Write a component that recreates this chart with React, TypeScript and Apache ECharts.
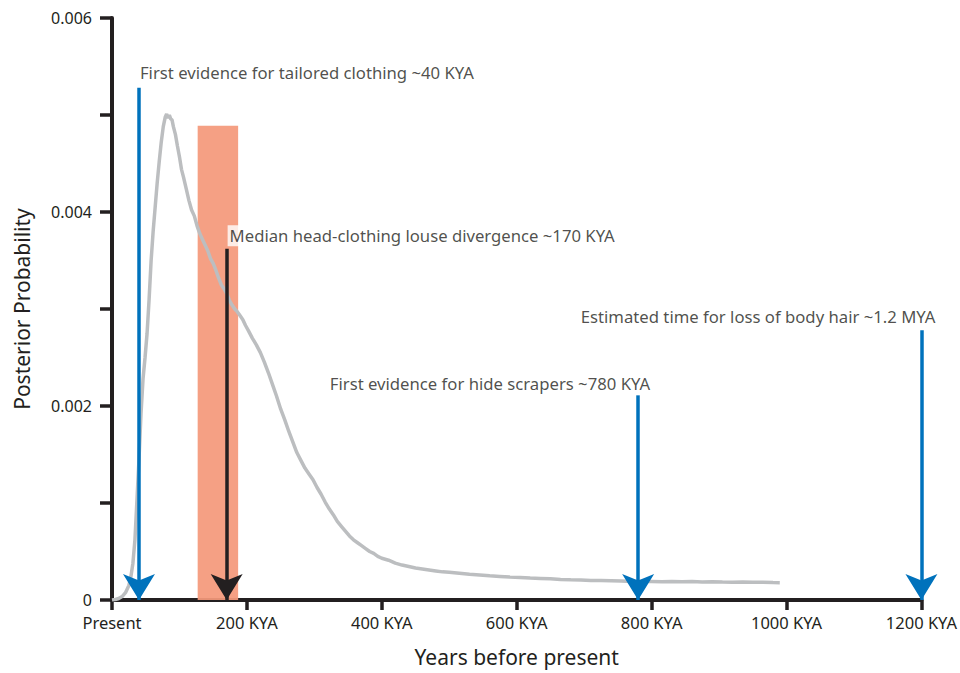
import React, { useEffect, useRef } from "react";
import * as echarts from "echarts";

// Posterior density of head-clothing louse divergence time (KYA)
const kya = [
  0, 5, 10, 15, 20, 25, 28, 31, 34, 37, 40, 43, 46, 49, 52, 55, 58, 61, 64, 67,
  70, 73, 76, 79, 81, 83, 85, 87, 89, 91, 94, 97, 100, 103, 106, 110, 114, 118, 122, 126,
  130, 134, 138, 142, 146, 150, 154, 158, 162, 166, 170, 174, 178, 182, 186, 190, 194, 198, 202, 208,
  214, 220, 226, 232, 238, 244, 250, 256, 262, 268, 274, 280, 286, 292, 298, 304, 310, 316, 322, 328,
  334, 340, 346, 352, 358, 364, 370, 376, 382, 388, 394, 400, 410, 420, 430, 440, 450, 460, 470, 480,
  490, 500, 515, 530, 545, 560, 575, 590, 605, 620, 635, 650, 665, 680, 695, 710, 725, 740, 755, 770,
  785, 800, 815, 830, 845, 860, 875, 890, 905, 920, 935, 950, 965, 980, 990,
];
const posterior = [
  0.0, 0.000005, 0.000015, 0.000035, 0.000075, 0.00015, 0.00024, 0.00038, 0.00062, 0.00103,
  0.00145, 0.00192, 0.00228, 0.0025, 0.00275, 0.0031, 0.0035, 0.0038, 0.00405, 0.0043,
  0.00452, 0.00472, 0.00488, 0.00498, 0.00501, 0.00497, 0.005, 0.00496, 0.00495, 0.00488,
  0.0048, 0.00468, 0.00457, 0.00444, 0.00436, 0.00424, 0.00412, 0.00402, 0.00396, 0.00386,
  0.00378, 0.00372, 0.00366, 0.0036, 0.00352, 0.00347, 0.0034, 0.00332, 0.00325, 0.00321,
  0.00316, 0.00309, 0.00304, 0.003, 0.00297, 0.00293, 0.00289, 0.00283, 0.00278, 0.0027,
  0.00263, 0.00255, 0.00245, 0.00234, 0.00222, 0.0021, 0.00197, 0.00186, 0.00174, 0.00163,
  0.00152, 0.00144, 0.00136, 0.0013, 0.00124, 0.00116, 0.00109, 0.00101, 0.00094, 0.00088,
  0.00081, 0.00076, 0.00071, 0.00066, 0.00062, 0.00059, 0.00056, 0.00053, 0.0005, 0.00048,
  0.00045, 0.00043, 0.00041, 0.00038, 0.00036, 0.000345, 0.00033, 0.00032, 0.00031, 0.0003,
  0.00029, 0.000285, 0.000275, 0.000265, 0.000258, 0.00025, 0.000243, 0.000236, 0.000232, 0.000226,
  0.000222, 0.000218, 0.000212, 0.000208, 0.000205, 0.000202, 0.0002, 0.000198, 0.000195, 0.000192,
  0.00019, 0.00019, 0.000189, 0.00019, 0.000188, 0.00019, 0.000186, 0.000188, 0.000185, 0.000184,
  0.000185, 0.000182, 0.000183, 0.00018, 0.000179,
];

// 95% interval of the divergence time (KYA) and its drawn height
const intervalKya = [127, 187];
const intervalTop = 0.00489;

// Annotated events
const eventLabels = [
  "First evidence for tailored clothing ~40 KYA",
  "Median head-clothing louse divergence ~170 KYA",
  "First evidence for hide scrapers ~780 KYA",
  "Estimated time for loss of body hair ~1.2 MYA",
];
const eventKya = [40, 170, 780, 1200];
const eventTop = [0.00528, 0.00362, 0.00211, 0.00278];

// Axes
const xTickValues = [0, 200, 400, 600, 800, 1000, 1200];
const xTickLabels = ["Present", "200 KYA", "400 KYA", "600 KYA", "800 KYA", "1000 KYA", "1200 KYA"];
const yLabelValues = [0, 0.002, 0.004, 0.006];
const yTickLabels = ["0", "0.002", "0.004", "0.006"];

// Styles
const FONT = "Noto Sans";
const INK = "#231f20";
const BLUE = "#0072bc";
const eventColors = [BLUE, INK, BLUE, BLUE];
const eventLabelStyle = [
  { align: "left", position: [1, -15], bg: false },
  { align: "left", position: [1, -13], bg: true },
  { align: "right", position: [12, -12], bg: false },
  { align: "right", position: [14, -14], bg: false },
];

export default function App() {
  const ref = useRef<HTMLDivElement>(null);

  useEffect(() => {
    document.body.style.margin = "0";
    if (!ref.current) return;
    const chart = echarts.init(ref.current, null, { renderer: "svg" });

    const lookup = (vals: number[], labels: string[]) => (v: number) => {
      const i = vals.findIndex((t) => Math.abs(t - v) < 1e-9);
      return i >= 0 ? labels[i] : "";
    };

    chart.setOption({
      animation: false,
      backgroundColor: "#ffffff",
      grid: { left: 112, right: 38, top: 18, bottom: 73, containLabel: false },
      xAxis: {
        type: "value",
        min: 0,
        max: 1200,
        interval: 200,
        name: "Years before present",
        nameLocation: "middle",
        nameGap: 46,
        nameTextStyle: { fontFamily: FONT, fontSize: 21, color: INK },
        axisLine: { show: true, onZero: false, lineStyle: { color: INK, width: 4 } },
        axisTick: { show: true, inside: false, length: 10, lineStyle: { color: INK, width: 3.5 } },
        axisLabel: {
          margin: 14,
          fontFamily: FONT,
          fontSize: 16.5,
          color: INK,
          formatter: lookup(xTickValues, xTickLabels),
        },
        splitLine: { show: false },
      },
      yAxis: {
        type: "value",
        min: 0,
        max: 0.006,
        interval: 0.001,
        name: "Posterior Probability",
        nameLocation: "middle",
        nameGap: 80,
        nameTextStyle: { fontFamily: FONT, fontSize: 21, color: INK },
        axisLine: { show: true, lineStyle: { color: INK, width: 4 } },
        axisTick: { show: true, inside: false, length: 12, lineStyle: { color: INK, width: 3.5 } },
        axisLabel: {
          margin: 20,
          fontFamily: FONT,
          fontSize: 16,
          color: INK,
          formatter: lookup(yLabelValues, yTickLabels),
        },
        splitLine: { show: false },
      },
      series: [
        {
          type: "line",
          z: 2,
          data: kya.map((k, i) => [k, posterior[i]]),
          showSymbol: false,
          symbol: "none",
          lineStyle: { color: "#bcbec0", width: 3.5 },
          silent: true,
        },
        {
          type: "line",
          z: 3,
          data: [],
          markArea: {
            silent: true,
            itemStyle: { color: "#f4997b", opacity: 0.93 },
            data: [[{ coord: [intervalKya[0], 0] }, { coord: [intervalKya[1], intervalTop] }]],
          },
        },
        {
          type: "line",
          z: 4,
          data: [],
          markLine: {
            silent: true,
            symbol: ["none", "arrow"],
            symbolSize: [24, 26],
            label: { show: false },
            data: eventKya.map((k, i) => [
              { coord: [k, eventTop[i]], lineStyle: { color: eventColors[i], width: 3.5, type: "solid" }, itemStyle: { color: eventColors[i] } },
              { coord: [k, 0] },
            ]),
          },
        },
        {
          type: "scatter",
          z: 5,
          symbolSize: 0.1,
          itemStyle: { color: "rgba(0,0,0,0)" },
          silent: true,
          data: eventKya.map((k, i) => ({
            value: [k, eventTop[i]],
            label: {
              show: true,
              formatter: eventLabels[i],
              position: eventLabelStyle[i].position,
              align: eventLabelStyle[i].align,
              verticalAlign: "middle",
              fontFamily: FONT,
              fontSize: 16.7,
              color: INK,
              backgroundColor: eventLabelStyle[i].bg ? "#ffffff" : "transparent",
              padding: eventLabelStyle[i].bg ? [2, 2, 2, 2] : 0,
            },
          })),
        },
      ],
    });

    return () => chart.dispose();
  }, []);

  return <div ref={ref} style={{ width: 960, height: 673, display: "block" }} />;
}
